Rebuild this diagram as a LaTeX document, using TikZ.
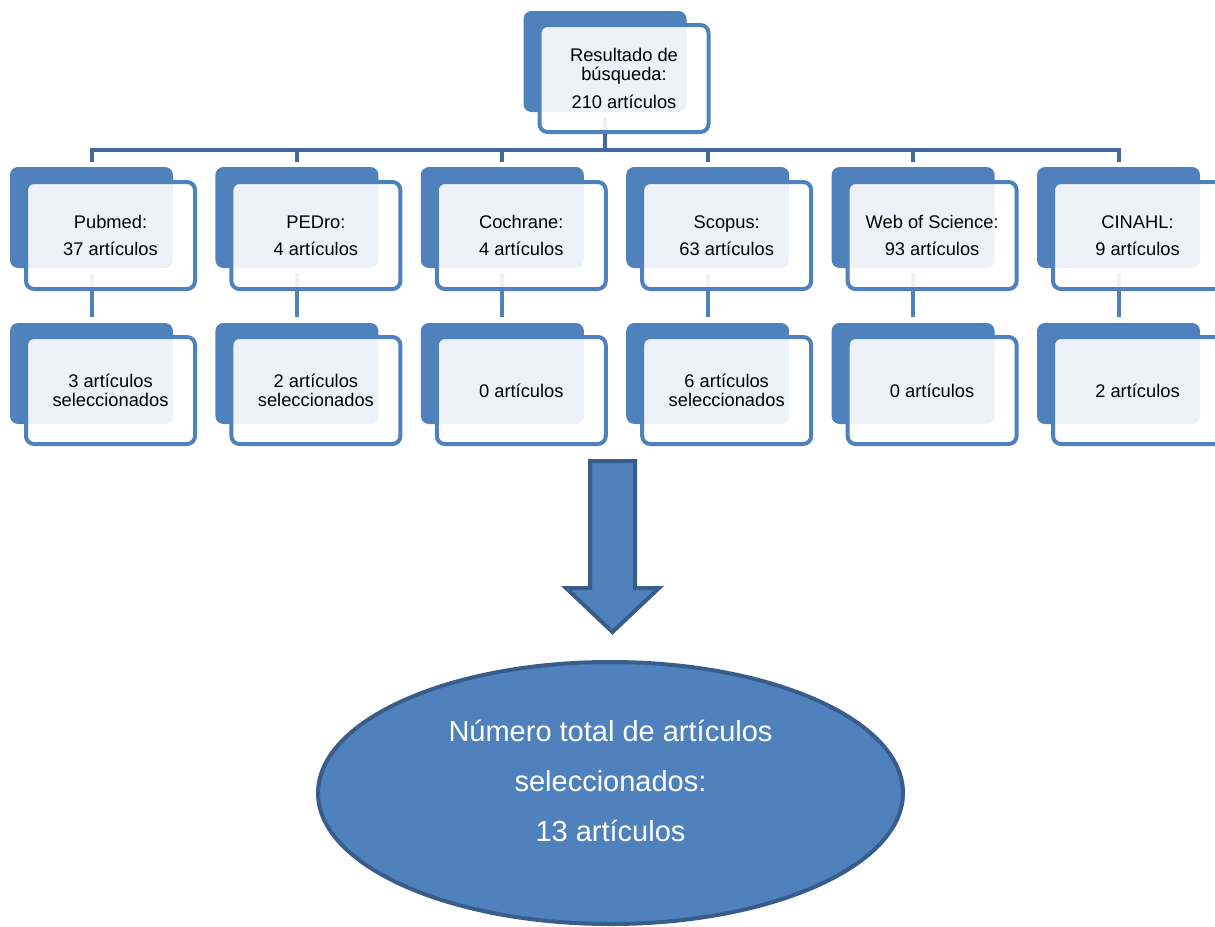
\documentclass[tikz,border=0pt]{standalone}
\usepackage{fontspec}
\setmainfont{Liberation Sans}
\usetikzlibrary{positioning,shapes.geometric,calc}
\definecolor{cardblue}{RGB}{79,129,189}
\definecolor{edgeblue}{RGB}{56,93,138}
\definecolor{barblue}{RGB}{65,105,155}

\begin{document}
\begin{tikzpicture}[x=1pt,y=-1pt,on grid,
	back/.style={rectangle,rounded corners=8pt,fill=cardblue,minimum width=163pt,minimum height=101pt,inner sep=0pt},
	front/.style={rectangle,rounded corners=8pt,draw=cardblue,line width=4pt,fill=white,fill opacity=0.9,text opacity=1,
		minimum width=169pt,minimum height=107pt,inner sep=0pt,align=center,font=\fontsize{18.3}{19}\selectfont},
	bar/.style={draw=barblue,line width=4pt,line join=miter},
	link/.style={draw=cardblue,line width=4pt},
	total/.style={ellipse,draw=edgeblue,line width=4pt,fill=cardblue,minimum width=585pt,minimum height=262pt,
		inner sep=0pt,align=center,text=white,font=\fontsize{29}{50}\selectfont}]
	\clip (0,0) rectangle (1215,926);
	% back cards
	\node[back] (root-b) at (605,61.5) {};
	\node[back] (pubmed-b) at (91.5,217.5) {};
	\node[back] (pedro-b) [right=205.4pt of pubmed-b] {};
	\node[back] (cochrane-b) [right=205.4pt of pedro-b] {};
	\node[back] (scopus-b) [right=205.4pt of cochrane-b] {};
	\node[back] (wos-b) [right=205.4pt of scopus-b] {};
	\node[back] (cinahl-b) [right=205.4pt of wos-b] {};
	\node[back] (pubmed-s-b) [below=156pt of pubmed-b] {};
	\node[back] (pedro-s-b) [below=156pt of pedro-b] {};
	\node[back] (cochrane-s-b) [below=156pt of cochrane-b] {};
	\node[back] (scopus-s-b) [below=156pt of scopus-b] {};
	\node[back] (wos-s-b) [below=156pt of wos-b] {};
	\node[back] (cinahl-s-b) [below=156pt of cinahl-b] {};
	% tree lines
	\coordinate (bar) at (605,150);
	\draw[bar] ([yshift=-6pt]root-b.south) -- (bar);
	\draw[bar] ([yshift=5pt]pubmed-b.north) -- (bar -| pubmed-b.north) -- (bar -| cinahl-b.north) -- ([yshift=5pt]cinahl-b.north);
	\draw[bar] (bar -| pedro-b.north) -- ([yshift=5pt]pedro-b.north)
	(bar -| cochrane-b.north) -- ([yshift=5pt]cochrane-b.north)
	(bar -| scopus-b.north) -- ([yshift=5pt]scopus-b.north)
	(bar -| wos-b.north) -- ([yshift=5pt]wos-b.north);
	\draw[link] ([yshift=-5pt]pubmed-b.south) -- ([yshift=6pt]pubmed-s-b.north)
	([yshift=-5pt]pedro-b.south) -- ([yshift=6pt]pedro-s-b.north)
	([yshift=-5pt]cochrane-b.south) -- ([yshift=6pt]cochrane-s-b.north)
	([yshift=-5pt]scopus-b.south) -- ([yshift=6pt]scopus-s-b.north)
	([yshift=-5pt]wos-b.south) -- ([yshift=6pt]wos-s-b.north)
	([yshift=-5pt]cinahl-b.south) -- ([yshift=6pt]cinahl-s-b.north);
	% front cards
	\node[front] (root) [below right=17pt and 19pt of root-b] {Resultado de\\búsqueda:\\[9pt]210 artículos};
	\node[front] (pubmed) [below right=18pt and 19pt of pubmed-b] {Pubmed:\\[8pt]37 artículos};
	\node[front] (pedro) [below right=18pt and 19pt of pedro-b] {PEDro:\\[8pt]4 artículos};
	\node[front] (cochrane) [below right=18pt and 19pt of cochrane-b] {Cochrane:\\[8pt]4 artículos};
	\node[front] (scopus) [below right=18pt and 19pt of scopus-b] {Scopus:\\[8pt]63 artículos};
	\node[front] (wos) [below right=18pt and 19pt of wos-b] {Web of Science:\\[8pt]93 artículos};
	\node[front] (cinahl) [below right=18pt and 19pt of cinahl-b] {CINAHL:\\[8pt]9 artículos};
	\node[front] (pubmed-s) [below right=17pt and 19pt of pubmed-s-b] {3 artículos\\seleccionados};
	\node[front] (pedro-s) [below right=17pt and 19pt of pedro-s-b] {2 artículos\\seleccionados};
	\node[front] (cochrane-s) [below right=17pt and 19pt of cochrane-s-b] {0 artículos};
	\node[front] (scopus-s) [below right=17pt and 19pt of scopus-s-b] {6 artículos\\seleccionados};
	\node[front] (wos-s) [below right=17pt and 19pt of wos-s-b] {0 artículos};
	\node[front] (cinahl-s) [below right=17pt and 19pt of cinahl-s-b] {2 artículos};
	% big arrow and total
	\draw[line width=4pt,draw=edgeblue,fill=cardblue,line join=miter]
	(590,461) -- (635,461) -- (635,588) -- (659,588) -- (612.5,632) -- (566,588) -- (590,588) -- cycle;
	\node[total] (total) at (610.5,793) {Número total de artículos\\seleccionados:\\13 artículos\rule[-25pt]{0pt}{25pt}};
\end{tikzpicture}
\end{document}
